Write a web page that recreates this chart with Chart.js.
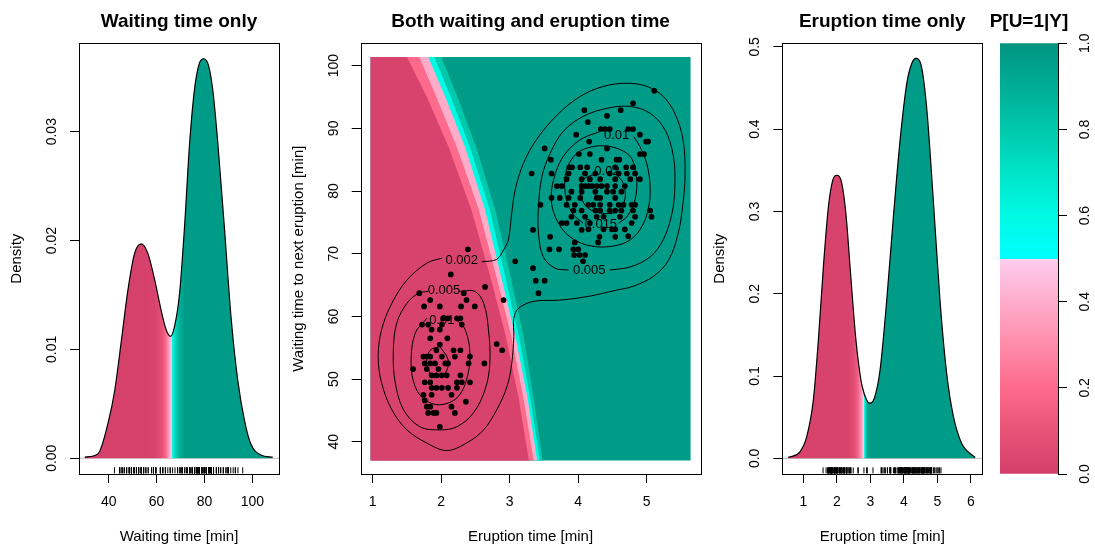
<!DOCTYPE html>
<html>
<head>
<meta charset="utf-8">
<script src="https://cdn.jsdelivr.net/npm/chart.js@4.4.1/dist/chart.umd.min.js"></script>
<style>
  html, body { margin: 0; padding: 0; background: #ffffff; }
  #wrap { position: relative; width: 1095px; height: 547px; overflow: hidden; background: #ffffff; }
  #wrap canvas { position: absolute; left: 0; top: 0; }
</style>
</head>
<body>
<div id="wrap">
  <canvas id="cWait" width="1095" height="547"></canvas>
  <canvas id="cJoint" width="1095" height="547"></canvas>
  <canvas id="cErupt" width="1095" height="547"></canvas>
  <canvas id="cKey" width="1095" height="547"></canvas>
</div>
<script>
// ---------------- data ----------------
// Old Faithful observations: eruption duration [min] and waiting time [min]
const ERUPTION = [
  5.11,4.80,4.09,4.62,4.42,4.14,3.51,3.97,4.33,4.39,4.46,4.73,4.80,4.90,4.99,5.02,4.16,4.42,4.90,4.96,
  4.01,4.17,3.60,4.56,4.60,4.34,3.32,3.61,3.87,3.91,4.03,4.13,4.54,4.70,4.80,3.86,4.10,4.25,4.46,4.59,
  4.71,4.83,3.83,4.05,4.17,4.32,4.54,4.76,4.90,3.69,3.76,4.05,4.10,4.15,4.20,4.27,4.34,4.42,4.54,4.68,
  3.90,4.05,4.25,4.42,4.51,4.63,3.61,3.73,3.86,4.03,4.27,4.32,4.54,3.45,3.83,3.95,4.15,4.22,4.32,4.46,
  4.59,4.66,4.78,4.83,3.93,4.05,4.25,4.32,4.46,4.54,4.63,4.80,5.05,3.90,4.10,4.27,4.37,4.61,4.83,5.07,
  3.76,3.83,3.98,4.17,4.78,4.15,4.37,4.49,4.54,4.68,3.34,4.05,3.59,4.31,4.54,4.73,3.95,4.29,3.58,3.72,
  3.93,4.00,3.08,3.94,4.02,4.10,3.34,4.07,3.38,3.51,3.42,
  2.39,2.14,2.64,1.68,2.33,2.91,1.84,2.37,2.49,1.75,1.98,2.29,2.23,2.28,2.10,2.03,1.72,1.81,2.01,2.30,
  1.86,1.98,1.84,2.09,1.98,2.81,2.89,2.18,2.28,1.93,1.74,1.79,1.84,2.01,2.20,2.42,1.76,1.84,1.91,2.06,
  2.10,2.40,2.63,1.59,1.79,1.96,1.86,1.93,2.01,2.08,2.28,1.76,1.84,2.23,2.30,2.42,1.86,1.93,2.01,2.10,
  2.23,1.74,1.86,2.15,1.76,2.36,1.79,1.84,2.15,1.81,1.89,1.93,2.20,1.98
];
const WAITING = [
  96.0,94.0,92.9,92.9,92.0,91.0,86.8,89.0,89.9,89.9,89.9,89.9,89.9,89.0,87.9,87.9,87.9,86.8,85.9,85.9,
  85.9,85.9,85.0,85.0,85.0,85.0,82.8,82.8,83.8,83.8,83.8,83.8,83.8,83.8,83.8,82.8,82.8,82.8,82.8,82.8,
  82.8,82.8,81.9,81.9,81.9,81.9,81.9,81.9,81.9,80.8,80.8,80.8,80.8,80.8,80.8,80.8,80.8,80.8,80.8,80.8,
  79.9,79.9,79.9,79.9,79.9,79.9,78.9,78.9,78.9,78.9,78.9,78.9,78.9,77.8,77.8,77.8,77.8,77.8,77.8,77.8,
  77.8,77.8,77.8,77.8,76.9,76.9,76.9,76.9,76.9,76.9,76.9,76.9,76.9,75.9,75.9,75.9,75.9,75.9,75.9,75.9,
  74.9,74.9,74.9,74.9,74.9,73.9,73.9,73.9,73.9,73.9,73.8,73.8,72.7,72.7,72.7,72.8,71.8,71.8,70.7,70.7,
  70.7,70.7,68.8,69.8,69.8,69.8,67.7,68.8,65.7,65.7,63.7,
  70.7,66.7,64.7,63.7,63.7,62.6,62.6,62.6,61.6,61.6,61.6,61.6,59.7,59.7,59.7,59.7,58.7,58.7,58.7,58.7,
  57.9,57.9,56.5,56.5,55.5,55.6,54.6,54.6,54.6,54.6,53.6,53.6,53.6,53.6,53.6,53.6,52.5,52.5,52.5,52.5,
  52.5,52.5,52.5,51.6,51.6,51.6,50.6,50.6,50.6,50.6,50.6,49.5,49.5,49.5,49.5,49.5,48.6,48.6,48.6,48.6,
  48.6,47.5,47.5,47.5,46.6,46.4,45.6,45.6,45.6,44.6,44.6,44.6,44.6,42.4
];

// marginal mixture density of waiting time
const WAIT_GRID = [30,35.5,39.7,42.5,45.3,48.0,50.8,53.6,56.4,59.2,61.9,64.0,65.8,67.5,69.6,71.7,73.7,75.8,77.9,79.7,81.7,83.5,85.5,88.3,91.1,93.9,96.7,99.4,103.6,108.5];
const WAIT_DENS = [0.0001,0.0004,0.0032,0.0062,0.0108,0.0154,0.0188,0.0197,0.0188,0.0164,0.0136,0.0118,0.0112,0.0121,0.0151,0.0213,0.0286,0.0338,0.0363,0.0367,0.0361,0.0338,0.0292,0.0213,0.0130,0.0072,0.0035,0.0013,0.0003,0.0001];
// posterior P[U=1|waiting] along the waiting axis
const WAIT_POST_AT = [55,59,61,62.5,64,65.3,66.1,66.7,68,69.7,72];
const WAIT_POST    = [0.01,0.02,0.05,0.10,0.20,0.38,0.49,0.60,0.76,0.90,0.97];

// marginal mixture density of eruption time
const ERUPT_GRID = [0.55,0.90,1.10,1.30,1.45,1.60,1.75,1.88,2.00,2.125,2.27,2.41,2.57,2.69,2.76,2.89,2.99,3.12,3.29,3.49,3.69,3.89,4.09,4.24,4.36,4.50,4.68,4.88,5.08,5.28,5.48,5.73,6.13];
const ERUPT_DENS = [0.001,0.008,0.026,0.071,0.144,0.233,0.306,0.338,0.344,0.338,0.298,0.225,0.144,0.103,0.087,0.071,0.067,0.073,0.107,0.192,0.294,0.387,0.456,0.480,0.486,0.480,0.427,0.314,0.192,0.103,0.051,0.018,0.001];
// posterior P[U=1|eruption] along the eruption axis
const ERUPT_POST_AT = [2.35,2.50,2.62,2.72,2.78,2.80,2.83,2.87,2.92,3.00];
const ERUPT_POST    = [0.02,0.06,0.15,0.30,0.45,0.49,0.60,0.80,0.93,0.97];

// joint posterior P[U=1|Y]: eruption time at which the posterior reaches each level, per waiting row
const HM_ERUPT_RANGE = [0.97, 5.64];
const HM_ROWS = [37, 47, 57, 67, 77, 87, 95, 101.4];
const HM_P10 = [3.28, 3.13, 2.94, 2.70, 2.44, 2.11, 1.79, 1.50];
const HM_P30 = [3.35, 3.20, 3.02, 2.79, 2.55, 2.23, 1.93, 1.68];
const HM_P50 = [3.40, 3.26, 3.08, 2.86, 2.64, 2.35, 2.06, 1.81];
const HM_P70 = [3.44, 3.30, 3.13, 2.92, 2.71, 2.42, 2.14, 1.90];
const HM_P90 = [3.48, 3.35, 3.20, 3.00, 2.79, 2.51, 2.24, 2.00];

// contour lines of the joint mixture density, [eruption, waiting]
const C_0002 = [[2.59,68.7],[2.81,69.1],[2.91,70.6],[2.98,72.2],[3.03,76.5],[3.08,80.2],[3.20,84.4],[3.39,88.2],[3.69,92.1],[4.03,95.1],[4.37,96.7],[4.71,97.2],[5.00,96.7],[5.24,95.1],[5.41,92.4],[5.53,88.2],[5.56,82.8],[5.53,78.1],[5.46,73.3],[5.32,69.0],[5.10,66.4],[4.80,64.8],[4.56,64.2],[4.15,63.2],[3.73,62.6],[3.35,62.4],[3.13,61.3],[3.06,59.7],[3.06,56.8],[3.03,52.5],[2.96,48.8],[2.81,45.1],[2.62,41.9],[2.37,39.8],[2.08,38.6],[1.79,39.8],[1.50,41.9],[1.28,45.1],[1.13,49.4],[1.08,53.6],[1.13,57.9],[1.28,62.1],[1.50,65.8],[1.79,68.5],[2.01,69.3]];
const C_0005_A = [[2.27,64.0],[2.49,64.0],[2.62,62.1],[2.69,57.9],[2.71,52.5],[2.64,48.3],[2.47,44.6],[2.23,42.4],[1.98,41.9],[1.69,42.4],[1.45,45.1],[1.33,49.4],[1.30,54.1],[1.35,58.9],[1.50,62.1],[1.67,63.7],[1.81,64.0]];
const C_001_A = [[2.23,59.4],[2.35,57.9],[2.42,54.1],[2.37,49.9],[2.23,47.0],[1.98,45.9],[1.76,46.7],[1.62,48.8],[1.56,52.5],[1.62,57.3],[1.79,59.7]];
const C_0015_A = [[1.98,55.2],[2.10,53.1],[2.06,51.0],[1.89,50.3],[1.79,52.5],[1.84,54.6],[1.98,55.2]];
const C_0005_B = [[4.46,67.4],[4.76,67.9],[5.05,69.5],[5.24,72.2],[5.37,76.5],[5.41,80.7],[5.39,85.5],[5.27,89.7],[5.05,92.4],[4.76,93.5],[4.42,93.2],[4.07,91.9],[3.78,89.5],[3.59,86.0],[3.47,82.3],[3.42,77.5],[3.42,73.3],[3.49,69.5],[3.66,67.7],[3.86,67.4]];
const C_001_B = [[4.81,88.7],[4.90,87.1],[5.00,84.4],[5.05,80.7],[5.02,77.0],[4.90,73.8],[4.71,71.9],[4.42,71.1],[4.12,71.4],[3.88,72.7],[3.71,74.9],[3.61,78.1],[3.64,81.8],[3.78,85.5],[4.03,88.2],[4.32,89.5]];
const C_0015_B = [[4.59,74.9],[4.71,75.9],[4.83,78.6],[4.85,82.3],[4.76,85.5],[4.51,87.0],[4.22,87.1],[3.98,86.0],[3.83,83.4],[3.81,79.7],[3.91,76.5],[4.07,74.9]];
const C_002_B = [[4.56,82.6],[4.66,81.2],[4.68,78.6],[4.56,76.7],[4.32,76.5],[4.12,77.5],[4.03,79.7],[4.07,81.8],[4.27,82.8]];
const CONTOUR_LABELS = [
  ['0.002', 2.30, 68.9], ['0.005', 2.04, 64.1], ['0.01', 2.01, 59.3],
  ['0.005', 4.16, 67.4], ['0.01', 4.56, 88.9], ['0.015', 4.33, 74.6], ['0.02', 4.42, 83.1]
];

// tick values
const WAIT_TICKS = [40, 60, 80, 100];
const WAIT_DENS_TICKS = [0, 0.01, 0.02, 0.03];
const JOINT_X_TICKS = [1, 2, 3, 4, 5];
const JOINT_Y_TICKS = [40, 50, 60, 70, 80, 90, 100];
const ERUPT_TICKS = [1, 2, 3, 4, 5, 6];
const ERUPT_DENS_TICKS = [0, 0.1, 0.2, 0.3, 0.4, 0.5];
const KEY_TICKS = [0, 0.2, 0.4, 0.6, 0.8, 1.0];

// colour scale for P[U=1|Y]: pink half below 0.5, cyan/teal half above
const RAMP_LOW  = [[0.0,[211,63,106]],[0.1,[232,83,120]],[0.2,[252,106,140]],[0.3,[255,140,170]],[0.4,[255,172,203]],[0.5,[253,205,238]]];
const RAMP_HIGH = [[0.5,[0,255,255]],[0.6,[0,250,228]],[0.7,[0,228,200]],[0.8,[0,200,172]],[0.9,[0,173,150]],[1.0,[0,148,128]]];

// ---------------- helpers ----------------
const FONT = '"Liberation Sans", Arial, Helvetica, sans-serif';
const PAGE_W = 1095, PAGE_H = 547, AXIS_SPACE = 30;

function rgbStr(c) { return 'rgb(' + c.map(v => Math.round(v)).join(',') + ')'; }
function rampColor(p) {
  const stops = p < 0.5 ? RAMP_LOW : RAMP_HIGH;
  if (p <= stops[0][0]) return rgbStr(stops[0][1]);
  for (let i = 1; i < stops.length; i++) {
    if (p <= stops[i][0]) {
      const [p0, c0] = stops[i - 1], [p1, c1] = stops[i];
      const t = (p - p0) / (p1 - p0);
      return rgbStr(c0.map((v, k) => v + (c1[k] - v) * t));
    }
  }
  return rgbStr(stops[stops.length - 1][1]);
}
const pts = (xs, ys) => xs.map((x, i) => ({ x, y: ys[i] }));
const pairs = arr => arr.map(([x, y]) => ({ x, y }));

function padFor(box, ySide, hasX) {
  return {
    left: ySide === 'left' ? box.left - AXIS_SPACE : box.left,
    right: ySide === 'right' ? PAGE_W - box.right - AXIS_SPACE : PAGE_W - box.right,
    top: box.top,
    bottom: hasX ? PAGE_H - box.bottom - AXIS_SPACE : PAGE_H - box.bottom
  };
}
function linAxis(min, max, ticks, position) {
  return {
    type: 'linear', position, min, max,
    afterBuildTicks: s => { s.ticks = ticks.map(v => ({ value: v })); },
    afterFit: s => { if (s.isHorizontal()) s.height = AXIS_SPACE; else s.width = AXIS_SPACE; },
    ticks: { color: 'rgba(0,0,0,0)', font: { size: 1 }, padding: 0, autoSkip: false, maxRotation: 0 },
    grid: { drawOnChartArea: false, drawTicks: true, tickLength: 9, tickColor: '#000', color: '#000', lineWidth: 1 },
    border: { display: false }
  };
}
function posteriorFill(atX, post) {
  return context => {
    const chart = context.chart, a = chart.chartArea;
    if (!a) return null;
    const xs = chart.scales.x;
    const g = chart.ctx.createLinearGradient(a.left, 0, a.right, 0);
    atX.forEach((v, i) => {
      const t = (xs.getPixelForValue(v) - a.left) / (a.right - a.left);
      g.addColorStop(Math.min(1, Math.max(0, t)), rampColor(post[i]));
    });
    return g;
  };
}

// axes decoration, titles and contour labels
const panelDecor = {
  id: 'panelDecor',
  beforeDatasetDraw(chart, args, opts) {
    if (!opts.contourLabels || chart.data.datasets[args.index].label !== 'obs') return;
    const { ctx, scales } = chart;
    ctx.save();
    ctx.font = '13px ' + FONT;
    ctx.fillStyle = '#000';
    ctx.textAlign = 'center';
    ctx.textBaseline = 'middle';
    opts.contourLabels.forEach(([t, x, y]) => ctx.fillText(t, scales.x.getPixelForValue(x), scales.y.getPixelForValue(y)));
    ctx.restore();
  },
  afterDraw(chart, args, opts) {
    const { ctx, chartArea: a, scales } = chart;
    ctx.save();
    ctx.fillStyle = '#000';
    if (opts.box) {
      ctx.strokeStyle = '#000';
      ctx.lineWidth = 1;
      ctx.strokeRect(Math.round(a.left) + 0.5, Math.round(a.top) + 0.5, Math.round(a.right - a.left), Math.round(a.bottom - a.top));
    }
    ctx.font = '14px ' + FONT;
    ctx.textAlign = 'center';
    ctx.textBaseline = 'middle';
    if (opts.xFmt) {
      scales.x.ticks.forEach(t => ctx.fillText(opts.xFmt(t.value), scales.x.getPixelForValue(t.value), a.bottom + 27.7));
    }
    const ys = scales.y;
    const lx = opts.ySide === 'right' ? a.right + 27 : a.left - 27;
    ys.ticks.forEach(t => {
      ctx.save();
      ctx.translate(lx, ys.getPixelForValue(t.value));
      ctx.rotate(-Math.PI / 2);
      ctx.fillText(opts.yFmt(t.value), 0, 0);
      ctx.restore();
    });
    ctx.font = 'bold 19px ' + FONT;
    ctx.fillText(opts.title, (a.left + a.right) / 2, a.top - 21.6);
    ctx.font = '15px ' + FONT;
    if (opts.xTitle) ctx.fillText(opts.xTitle, (a.left + a.right) / 2, a.bottom + 63);
    if (opts.yTitle) {
      ctx.save();
      ctx.translate(a.left - 62, (a.top + a.bottom) / 2);
      ctx.rotate(-Math.PI / 2);
      ctx.fillText(opts.yTitle, 0, 0);
      ctx.restore();
    }
    ctx.restore();
  }
};
Chart.register(panelDecor);

const baseOptions = (box, ySide, hasX) => ({
  responsive: false, animation: false, devicePixelRatio: 1, events: [],
  layout: { padding: padFor(box, ySide, hasX) },
  plugins: { legend: { display: false }, tooltip: { enabled: false }, title: { display: false } }
});

// ---------------- marginal density panels ----------------
function densityChart(id, box, grid, dens, postAt, post, obs, xr, yr, xTicks, yTicks, rugY, texts) {
  const opts = baseOptions(box, 'left', true);
  opts.scales = {
    x: linAxis(xr[0], xr[1], xTicks, 'bottom'),
    y: linAxis(yr[0], yr[1], yTicks, 'left')
  };
  opts.plugins.panelDecor = Object.assign({ box: true, ySide: 'left' }, texts);
  return new Chart(document.getElementById(id), {
    type: 'scatter',
    data: {
      datasets: [
        { type: 'scatter', label: 'rug', data: obs.map(v => ({ x: v, y: rugY })), pointStyle: 'line', rotation: 90,
          radius: 3, borderColor: '#000', borderWidth: 1, backgroundColor: '#000', order: 0 },
        { type: 'line', label: 'density', data: pts(grid, dens), showLine: true, borderColor: '#000', borderWidth: 1.2,
          pointRadius: 0, cubicInterpolationMode: 'monotone', fill: 'origin', backgroundColor: posteriorFill(postAt, post), order: 1 },
        { type: 'line', label: 'zero', data: [{ x: xr[0], y: 0 }, { x: xr[1], y: 0 }], showLine: true,
          borderColor: '#bebebe', borderWidth: 1, pointRadius: 0, fill: false, order: 2 }
      ]
    },
    options: opts
  });
}

const BOX_WAIT  = { left: 79, right: 279, top: 43.3, bottom: 474 };
const BOX_JOINT = { left: 360.7, right: 700.5, top: 43.3, bottom: 474 };
const BOX_ERUPT = { left: 782.3, right: 982.3, top: 43.3, bottom: 474 };
const BOX_KEY   = { left: 1000, right: 1058, top: 43.3, bottom: 474 };

densityChart('cWait', BOX_WAIT, WAIT_GRID, WAIT_DENS, WAIT_POST_AT, WAIT_POST, WAITING,
  [27.6, 111.15], [-0.00145, 0.03812], WAIT_TICKS, WAIT_DENS_TICKS, -0.00111,
  { title: 'Waiting time only', xTitle: 'Waiting time [min]', yTitle: 'Density',
    xFmt: v => String(v), yFmt: v => v.toFixed(2) });

densityChart('cErupt', BOX_ERUPT, ERUPT_GRID, ERUPT_DENS, ERUPT_POST_AT, ERUPT_POST, ERUPTION,
  [0.373, 6.343], [-0.0190, 0.5043], ERUPT_TICKS, ERUPT_DENS_TICKS, -0.0146,
  { title: 'Eruption time only', xTitle: 'Eruption time [min]', yTitle: 'Density',
    xFmt: v => String(v), yFmt: v => v.toFixed(1) });

// ---------------- joint panel ----------------
(function () {
  const [x0, x1] = HM_ERUPT_RANGE;
  const r0 = HM_ROWS[0], r1 = HM_ROWS[HM_ROWS.length - 1];
  const leftOf = curve => [{ x: x0, y: r0 }].concat(curve.map((x, i) => ({ x, y: HM_ROWS[i] })), [{ x: x0, y: r1 }]);
  const band = (data, p, order) => ({ type: 'line', label: 'band', data, showLine: true, borderWidth: 0,
    borderColor: 'rgba(0,0,0,0)', pointRadius: 0, tension: 0, fill: 'shape', backgroundColor: rampColor(p), order });
  const contour = arr => ({ type: 'line', label: 'contour', data: pairs(arr), showLine: true, borderColor: '#000',
    borderWidth: 1, pointRadius: 0, tension: 0.35, fill: false, order: 1 });

  const opts = baseOptions(BOX_JOINT, 'left', true);
  opts.scales = {
    x: linAxis(0.825, 5.785, JOINT_X_TICKS, 'bottom'),
    y: linAxis(34.86, 103.57, JOINT_Y_TICKS, 'left')
  };
  opts.plugins.panelDecor = {
    box: true, ySide: 'left', title: 'Both waiting and eruption time',
    xTitle: 'Eruption time [min]', yTitle: 'Waiting time to next eruption [min]',
    xFmt: v => String(v), yFmt: v => String(v), contourLabels: CONTOUR_LABELS
  };
  new Chart(document.getElementById('cJoint'), {
    type: 'scatter',
    data: {
      datasets: [
        { type: 'scatter', label: 'obs', data: pts(ERUPTION, WAITING), pointRadius: 2.85, pointStyle: 'circle',
          backgroundColor: '#000', borderWidth: 0, order: 0 },
        contour(C_0002), contour(C_0005_A), contour(C_001_A), contour(C_0015_A),
        contour(C_0005_B), contour(C_001_B), contour(C_0015_B), contour(C_002_B),
        band(leftOf(HM_P10), 0.02, 2),
        band(leftOf(HM_P30), 0.2, 3),
        band(leftOf(HM_P50), 0.4, 4),
        band(leftOf(HM_P70), 0.6, 5),
        band(leftOf(HM_P90), 0.8, 6),
        band([{ x: x0, y: r0 }, { x: x1, y: r0 }, { x: x1, y: r1 }, { x: x0, y: r1 }], 0.97, 7)
      ]
    },
    options: opts
  });
})();

// ---------------- colour key ----------------
(function () {
  const opts = baseOptions(BOX_KEY, 'right', false);
  const yAxis = linAxis(0, 1, KEY_TICKS, 'right');
  yAxis.border = { display: true, color: '#000', width: 1 };
  opts.scales = { x: { display: false }, y: yAxis };
  opts.plugins.panelDecor = { box: false, ySide: 'right', title: 'P[U=1|Y]', yFmt: v => v.toFixed(1) };
  const keyFill = context => {
    const chart = context.chart;
    if (!chart.chartArea) return null;
    const ys = chart.scales.y;
    const g = chart.ctx.createLinearGradient(0, ys.getPixelForValue(0), 0, ys.getPixelForValue(1));
    RAMP_LOW.forEach(([p, c]) => g.addColorStop(p === 0.5 ? 0.4999 : p, rgbStr(c)));
    RAMP_HIGH.forEach(([p, c]) => g.addColorStop(p, rgbStr(c)));
    return g;
  };
  new Chart(document.getElementById('cKey'), {
    type: 'bar',
    data: { labels: ['P[U=1|Y]'], datasets: [{ data: [[0, 1]], backgroundColor: keyFill, borderWidth: 0,
      barPercentage: 1, categoryPercentage: 1 }] },
    options: opts
  });
})();
</script>
</body>
</html>
